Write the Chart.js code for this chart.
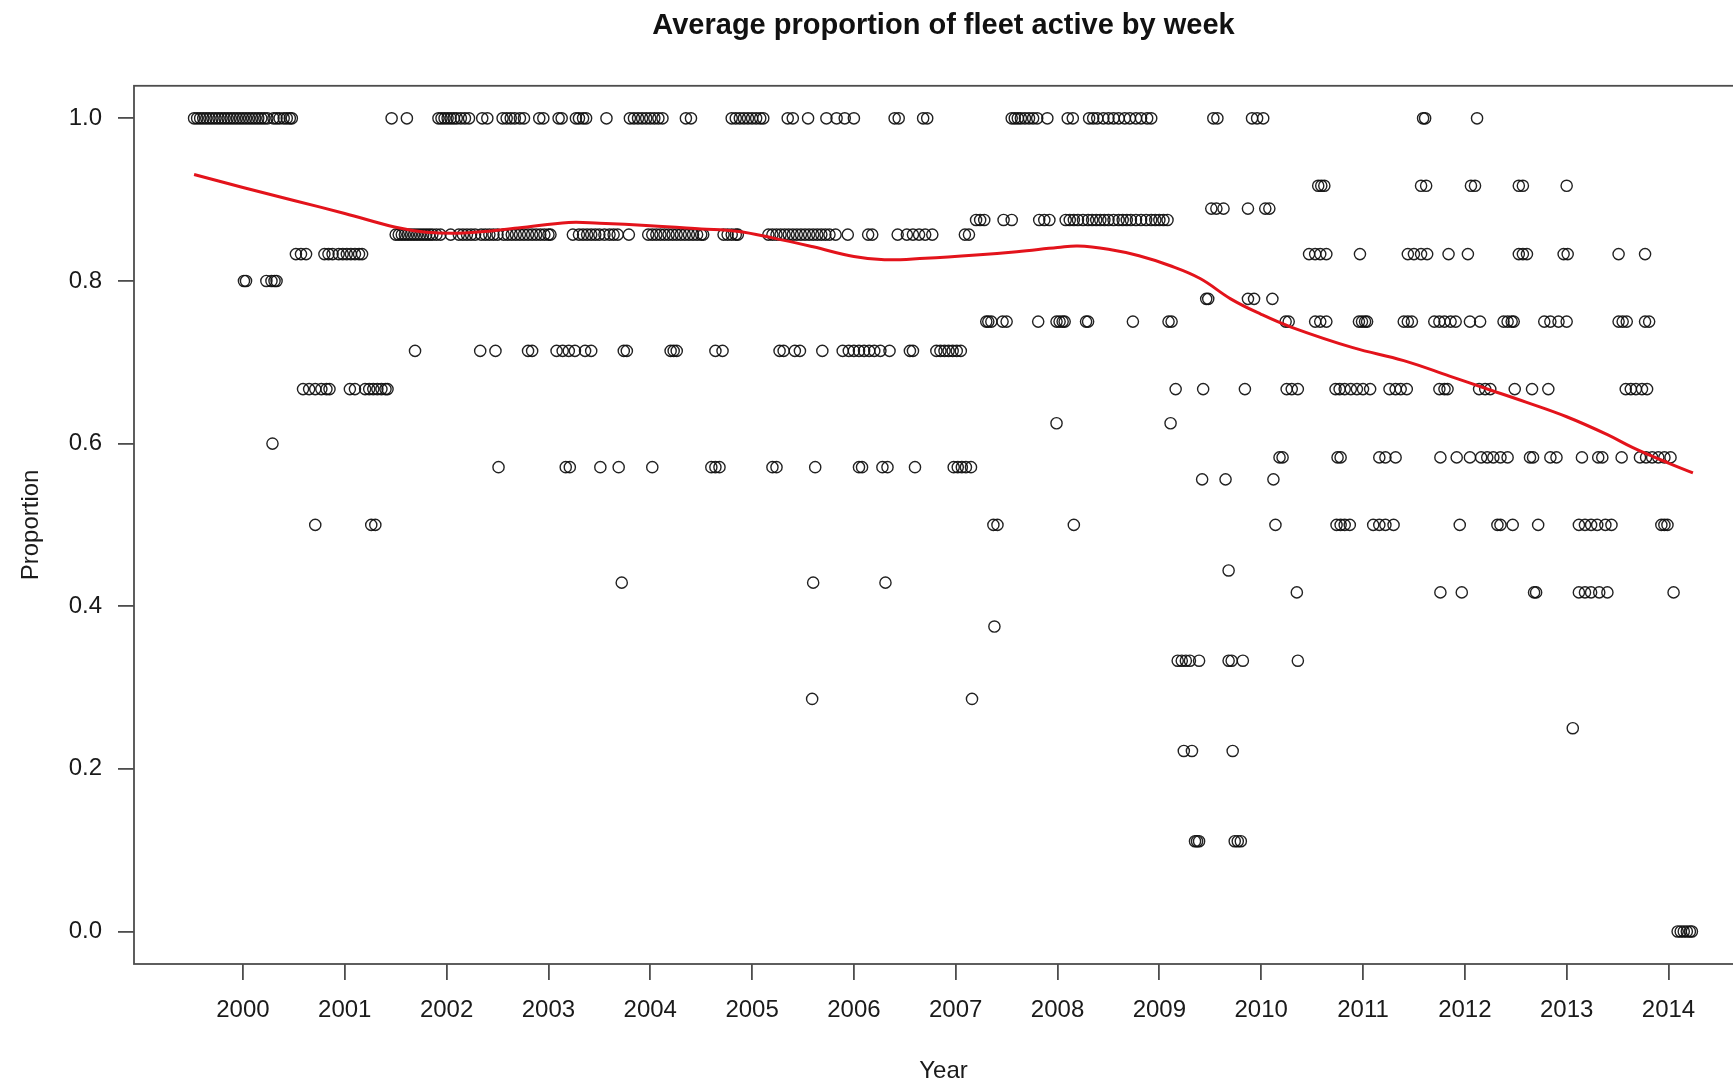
<!DOCTYPE html>
<html>
<head>
<meta charset="utf-8">
<title>Average proportion of fleet active by week</title>
<script src="https://cdn.jsdelivr.net/npm/chart.js@4.4.1/dist/chart.umd.min.js"></script>
<style>
  html, body { margin: 0; padding: 0; background: #fff; overflow: hidden; }
  #wrap { width: 1760px; height: 1083px; }
</style>
</head>
<body>
<div id="wrap"><canvas id="fleetChart" width="1760" height="1083"></canvas></div>
<script>
// tick labels
const yearTicks = [2000, 2001, 2002, 2003, 2004, 2005, 2006, 2007, 2008, 2009, 2010, 2011, 2012, 2013, 2014];
const proportionTicks = [0, 0.2, 0.4, 0.6, 0.8, 1.0];

// weeks (as decimal year) observed at each proportion level
const yearsAt1000 = [1999.52, 1999.55, 1999.58, 1999.61, 1999.64, 1999.67, 1999.70, 1999.73, 1999.76, 1999.79,
  1999.82, 1999.85, 1999.88, 1999.91, 1999.94, 1999.97, 2000.00, 2000.03, 2000.06, 2000.09, 2000.12, 2000.15,
  2000.18, 2000.21, 2000.24, 2000.30, 2000.33, 2000.36, 2000.40, 2000.43, 2000.46, 2000.48,
  2001.46, 2001.61,
  2001.92, 2001.95, 2001.98, 2002.01, 2002.04, 2002.07, 2002.10, 2002.14, 2002.18, 2002.22,
  2002.35, 2002.40, 2002.55, 2002.59, 2002.63, 2002.67, 2002.72, 2002.76, 2002.91, 2002.95,
  2003.10, 2003.13, 2003.27, 2003.30, 2003.34, 2003.37, 2003.57,
  2003.80, 2003.84, 2003.88, 2003.92, 2003.96, 2004.00, 2004.04, 2004.08, 2004.12, 2004.35, 2004.40,
  2004.80, 2004.84, 2004.88, 2004.92, 2004.96, 2005.00, 2005.04, 2005.08, 2005.11,
  2005.35, 2005.40, 2005.55, 2005.73, 2005.83, 2005.91, 2006.00, 2006.40, 2006.44, 2006.68, 2006.72,
  2007.55, 2007.58, 2007.61, 2007.64, 2007.68, 2007.72, 2007.76, 2007.80, 2007.90, 2008.10, 2008.15,
  2008.31, 2008.35, 2008.39, 2008.45, 2008.50, 2008.55, 2008.60, 2008.66, 2008.71, 2008.77, 2008.82, 2008.88, 2008.92,
  2009.53, 2009.57, 2009.91, 2009.96, 2010.02, 2011.59, 2011.61, 2012.12];
const yearsAt917 = [2010.56, 2010.59, 2010.62, 2011.57, 2011.62, 2012.06, 2012.10, 2012.53, 2012.57, 2013.00];
const yearsAt889 = [2009.51, 2009.56, 2009.63, 2009.87, 2010.04, 2010.08];
const yearsAt875 = [2007.20, 2007.24, 2007.28, 2007.47, 2007.55, 2007.82, 2007.87, 2007.92, 2008.08, 2008.12,
  2008.16, 2008.20, 2008.25, 2008.30, 2008.34, 2008.38, 2008.42, 2008.46, 2008.50, 2008.55, 2008.60, 2008.64,
  2008.68, 2008.72, 2008.77, 2008.82, 2008.87, 2008.92, 2008.96, 2009.00, 2009.04, 2009.08];
const yearsAt857 = [2001.50, 2001.53, 2001.56, 2001.59, 2001.62, 2001.65, 2001.68, 2001.71, 2001.74, 2001.77,
  2001.80, 2001.83, 2001.86, 2001.90, 2001.94, 2002.04, 2002.12, 2002.16, 2002.20, 2002.24, 2002.28, 2002.34,
  2002.38, 2002.42, 2002.46, 2002.50, 2002.56, 2002.60, 2002.64, 2002.68, 2002.72, 2002.76, 2002.80, 2002.84,
  2002.88, 2002.92, 2002.96, 2003.00, 2003.02,
  2003.24, 2003.30, 2003.34, 2003.38, 2003.42, 2003.46, 2003.50, 2003.55, 2003.60, 2003.64, 2003.68, 2003.79,
  2003.98, 2004.02, 2004.06, 2004.10, 2004.14, 2004.18, 2004.22, 2004.26, 2004.30, 2004.34, 2004.38, 2004.42,
  2004.46, 2004.50, 2004.52, 2004.72, 2004.76, 2004.80, 2004.84, 2004.86,
  2005.16, 2005.20, 2005.24, 2005.28, 2005.32, 2005.36, 2005.40, 2005.44, 2005.48, 2005.52, 2005.56, 2005.60,
  2005.64, 2005.68, 2005.72, 2005.76, 2005.82, 2005.94, 2006.14, 2006.18,
  2006.43, 2006.52, 2006.58, 2006.64, 2006.70, 2006.77, 2007.09, 2007.13];
const yearsAt833 = [2000.52, 2000.57, 2000.62, 2000.80, 2000.84, 2000.88, 2000.94, 2000.98, 2001.02, 2001.06,
  2001.10, 2001.14, 2001.17, 2010.47, 2010.53, 2010.58, 2010.64, 2010.97, 2011.44, 2011.50, 2011.57, 2011.63,
  2011.84, 2012.03, 2012.53, 2012.57, 2012.61, 2012.97, 2013.01, 2013.51, 2013.77];
const yearsAt800 = [2000.01, 2000.03, 2000.23, 2000.28, 2000.31, 2000.33];
const yearsAt778 = [2009.46, 2009.48, 2009.87, 2009.93, 2010.11];
const yearsAt750 = [2007.30, 2007.32, 2007.35, 2007.46, 2007.50, 2007.81, 2007.99, 2008.02, 2008.05, 2008.07,
  2008.28, 2008.30, 2008.74, 2009.09, 2009.12, 2010.24, 2010.27, 2010.53, 2010.58, 2010.64, 2010.96, 2010.99,
  2011.02, 2011.04, 2011.40, 2011.44, 2011.48, 2011.70, 2011.75, 2011.80, 2011.86, 2011.91, 2012.05, 2012.15,
  2012.38, 2012.42, 2012.46, 2012.48, 2012.78, 2012.84, 2012.92, 2013.00, 2013.51, 2013.55, 2013.59, 2013.77, 2013.81];
const yearsAt714 = [2001.69, 2002.33, 2002.48, 2002.80, 2002.84, 2003.08, 2003.14, 2003.20, 2003.26, 2003.36,
  2003.42, 2003.74, 2003.77, 2004.20, 2004.23, 2004.26, 2004.64, 2004.71, 2005.27, 2005.31, 2005.42, 2005.47,
  2005.69, 2005.89, 2005.95, 2006.00, 2006.05, 2006.10, 2006.15, 2006.20, 2006.26, 2006.35, 2006.55, 2006.58,
  2006.81, 2006.85, 2006.89, 2006.93, 2006.97, 2007.01, 2007.05];
const yearsAt667 = [2000.59, 2000.65, 2000.71, 2000.77, 2000.82, 2000.85, 2001.05, 2001.10, 2001.20, 2001.24,
  2001.28, 2001.32, 2001.36, 2001.40, 2001.42, 2009.16, 2009.43, 2009.84, 2010.25, 2010.30, 2010.36, 2010.73,
  2010.77, 2010.82, 2010.88, 2010.94, 2011.00, 2011.07, 2011.26, 2011.32, 2011.37, 2011.43, 2011.75, 2011.80,
  2011.83, 2012.14, 2012.20, 2012.25, 2012.49, 2012.66, 2012.82, 2013.58, 2013.63, 2013.68, 2013.74, 2013.79];
const yearsAt625 = [2007.99, 2009.11];
const yearsAt600 = [2000.29];
const yearsAt583 = [2010.18, 2010.21, 2010.75, 2010.78, 2011.16, 2011.22, 2011.32, 2011.76, 2011.92, 2012.05,
  2012.16, 2012.22, 2012.28, 2012.35, 2012.42, 2012.64, 2012.67, 2012.84, 2012.90, 2013.15, 2013.31, 2013.35,
  2013.54, 2013.72, 2013.78, 2013.84, 2013.90, 2013.96, 2014.02];
const yearsAt571 = [2002.51, 2003.17, 2003.21, 2003.51, 2003.69, 2004.02, 2004.60, 2004.64, 2004.68, 2005.20,
  2005.24, 2005.62, 2006.05, 2006.08, 2006.28, 2006.33, 2006.60, 2006.98, 2007.02, 2007.06, 2007.10, 2007.15];
const yearsAt556 = [2009.42, 2009.65, 2010.12];
const yearsAt500 = [2000.71, 2001.26, 2001.30, 2007.37, 2007.41, 2008.16, 2010.14, 2010.74, 2010.78, 2010.82,
  2010.87, 2011.10, 2011.16, 2011.22, 2011.30, 2011.95, 2012.32, 2012.35, 2012.47, 2012.72, 2013.12, 2013.18,
  2013.24, 2013.30, 2013.38, 2013.44, 2013.93, 2013.96, 2013.99];
const yearsAt444 = [2009.68];
const yearsAt429 = [2003.72, 2005.60, 2006.31];
const yearsAt417 = [2010.35, 2011.76, 2011.97, 2012.68, 2012.70, 2013.12, 2013.18, 2013.24, 2013.32, 2013.40, 2014.05];
const yearsAt375 = [2007.38];
const yearsAt333 = [2009.18, 2009.22, 2009.26, 2009.30, 2009.39, 2009.68, 2009.71, 2009.82, 2010.36];
const yearsAt286 = [2005.59, 2007.16];
const yearsAt250 = [2013.06];
const yearsAt222 = [2009.24, 2009.32, 2009.72];
const yearsAt111 = [2009.35, 2009.37, 2009.39, 2009.74, 2009.77, 2009.80];
const yearsAt000 = [2014.09, 2014.12, 2014.15, 2014.18, 2014.21, 2014.23];

const levels = [
  [1.0, yearsAt1000], [0.917, yearsAt917], [0.889, yearsAt889], [0.875, yearsAt875],
  [0.857, yearsAt857], [0.833, yearsAt833], [0.8, yearsAt800], [0.778, yearsAt778],
  [0.75, yearsAt750], [0.714, yearsAt714], [0.667, yearsAt667], [0.625, yearsAt625],
  [0.6, yearsAt600], [0.583, yearsAt583], [0.571, yearsAt571], [0.556, yearsAt556],
  [0.5, yearsAt500], [0.444, yearsAt444], [0.429, yearsAt429], [0.417, yearsAt417],
  [0.375, yearsAt375], [0.333, yearsAt333], [0.286, yearsAt286], [0.25, yearsAt250],
  [0.222, yearsAt222], [0.111, yearsAt111], [0.0, yearsAt000]
];

// smoothed trend (loess)
const trendYears = [1999.52, 2000.0, 2000.5, 2001.0, 2001.5, 2001.8, 2002.17, 2002.7, 2003.2, 2003.5, 2004.0,
  2004.5, 2004.85, 2005.2, 2005.6, 2006.0, 2006.3, 2006.7, 2007.2, 2007.6, 2008.0, 2008.2, 2008.5, 2008.8,
  2009.1, 2009.4, 2009.7, 2010.0, 2010.3, 2010.9, 2011.4, 2011.85, 2012.2, 2012.6, 2013.0, 2013.4, 2013.65,
  2014.0, 2014.24];
const trendValues = [0.931, 0.915, 0.899, 0.883, 0.866, 0.860, 0.859, 0.865, 0.872, 0.871, 0.868,
  0.864, 0.861, 0.853, 0.842, 0.830, 0.826, 0.828, 0.832, 0.836, 0.841, 0.843, 0.839, 0.831,
  0.819, 0.803, 0.778, 0.759, 0.743, 0.718, 0.702, 0.683, 0.668, 0.651, 0.633, 0.611, 0.595,
  0.576, 0.564];

const weekPoints = [];
levels.forEach(([level, years]) => {
  years.forEach(yr => weekPoints.push({ x: yr, y: level }));
});
const trendPoints = trendYears.map((yr, i) => ({ x: yr, y: trendValues[i] }));

const fontFamily = '"Liberation Sans", Arial, Helvetica, sans-serif';
const axisGrey = '#4d4d4d';

// R style box around the plot region
const plotFrame = {
  id: 'plotFrame',
  afterDraw(chart) {
    const { ctx, chartArea } = chart;
    ctx.save();
    ctx.strokeStyle = axisGrey;
    ctx.lineWidth = 1.8;
    ctx.strokeRect(chartArea.left, chartArea.top, chartArea.right - chartArea.left, chartArea.bottom - chartArea.top);
    ctx.restore();
  }
};

new Chart(document.getElementById('fleetChart'), {
  type: 'scatter',
  data: {
    datasets: [
      {
        label: 'Loess',
        data: trendPoints,
        showLine: true,
        borderColor: '#e3131b',
        borderWidth: 3,
        pointRadius: 0,
        tension: 0.4,
        order: 0
      },
      {
        label: 'Proportion',
        data: weekPoints,
        pointRadius: 5.6,
        pointBorderWidth: 1.4,
        pointBorderColor: 'rgba(15,15,15,0.92)',
        pointBackgroundColor: 'rgba(0,0,0,0)',
        order: 1
      }
    ]
  },
  options: {
    responsive: false,
    animation: false,
    devicePixelRatio: 1,
    layout: { padding: { left: 0, right: 7, top: 0, bottom: 0 } },
    plugins: {
      legend: { display: false },
      tooltip: { enabled: false },
      title: {
        display: true,
        fullSize: false,
        text: 'Average proportion of fleet active by week',
        color: '#111',
        font: { family: fontFamily, size: 29, weight: 'bold' },
        padding: { top: 9, bottom: 42 }
      }
    },
    scales: {
      x: {
        type: 'linear',
        min: 1998.93,
        max: 2014.83,
        afterBuildTicks: s => { s.ticks = yearTicks.map(v => ({ value: v })); },
        afterFit: s => { s.height = 119; },
        ticks: {
          color: '#1a1a1a',
          padding: 16,
          maxRotation: 0,
          font: { family: fontFamily, size: 24 },
          callback: v => String(v)
        },
        grid: { drawOnChartArea: false, drawTicks: true, tickLength: 16, color: axisGrey, lineWidth: 1.8 },
        border: { display: false },
        title: {
          display: true,
          text: 'Year',
          color: '#1a1a1a',
          font: { family: fontFamily, size: 24, lineHeight: 1 },
          padding: { top: 1.4, bottom: 0 }
        }
      },
      y: {
        min: -0.04,
        max: 1.04,
        afterBuildTicks: s => { s.ticks = proportionTicks.map(v => ({ value: v })); },
        afterFit: s => { s.width = 134; },
        ticks: {
          color: '#1a1a1a',
          padding: 16,
          font: { family: fontFamily, size: 24 },
          callback: v => v.toFixed(1)
        },
        grid: { drawOnChartArea: false, drawTicks: true, tickLength: 16, color: axisGrey, lineWidth: 1.8 },
        border: { display: false },
        title: {
          display: true,
          text: 'Proportion',
          color: '#1a1a1a',
          font: { family: fontFamily, size: 24, lineHeight: 1 },
          padding: { top: 19.7, bottom: 0 }
        }
      }
    }
  },
  plugins: [plotFrame]
});
</script>
</body>
</html>
